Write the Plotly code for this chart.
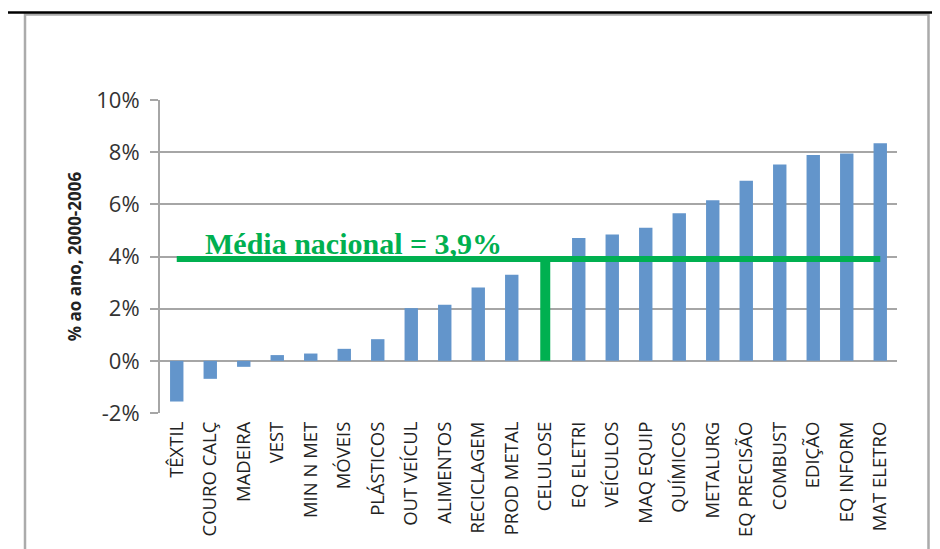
import plotly.graph_objects as go

categories = ["TÊXTIL", "COURO CALÇ", "MADEIRA", "VEST", "MIN N MET", "MÓVEIS",
              "PLÁSTICOS", "OUT VEÍCUL", "ALIMENTOS", "RECICLAGEM", "PROD METAL",
              "CELULOSE", "EQ ELETRI", "VEÍCULOS", "MAQ EQUIP", "QUÍMICOS",
              "METALURG", "EQ PRECISÃO", "COMBUST", "EDIÇÃO", "EQ INFORM", "MAT ELETRO"]
growth = [-1.56, -0.69, -0.23, 0.22, 0.28, 0.46,
          0.83, 2.02, 2.15, 2.81, 3.30,
          None, 4.71, 4.84, 5.10, 5.66,
          6.16, 6.90, 7.53, 7.89, 7.95, 8.34]
national_avg = 3.9
avg_label = "Média nacional = 3,9%"
tick_vals = [-2, 0, 2, 4, 6, 8, 10]
tick_text = ["-2%", "0%", "2%", "4%", "6%", "8%", "10%"]

# page has an 8px body margin; work in page coordinates and convert
OFF = 8
W, H = 940, 549
PL, PR, PT, PB = 160, 897, 100, 413   # plot area in page pixels
L, T = PL - OFF, PT - OFF
R = W - (PR - OFF)
B = H - (PB - OFF)
pw, ph = PR - PL, PB - PT

def px(x):
    return (x - PL) / pw

def py(y):
    return (PB - y) / ph

fig = go.Figure()
fig.add_trace(go.Bar(x=categories, y=growth, marker=dict(color="#6395cb", line=dict(width=0)),
                     showlegend=False, hoverinfo="x+y"))
fig.add_trace(go.Scatter(x=[categories[0], categories[-1]], y=[national_avg, national_avg],
                         mode="lines", line=dict(color="#00b050", width=6), showlegend=False))
fig.add_trace(go.Scatter(x=["CELULOSE", "CELULOSE"], y=[0, national_avg],
                         mode="lines", line=dict(color="#00b050", width=10), showlegend=False))

fig.add_annotation(x=px(353.5), y=national_avg, xref="paper", yref="y", text="<b>" + avg_label + "</b>",
                   showarrow=False, xanchor="center", yanchor="bottom", yshift=-3,
                   font=dict(family="Liberation Serif", size=30, color="#00b050"))

shapes = [
    dict(type="rect", xref="paper", yref="paper", x0=px(25), x1=px(928.5), y0=py(570), y1=py(14.5),
         line=dict(color="#ababab", width=2.5), fillcolor="rgba(0,0,0,0)", layer="below"),
    dict(type="line", xref="paper", yref="paper", x0=px(7), x1=px(950), y0=py(12.5), y1=py(12.5),
         line=dict(color="#000000", width=2.5)),
]

fig.update_layout(
    width=W, height=H,
    margin=dict(l=L, r=R, t=T, b=B),
    paper_bgcolor="white", plot_bgcolor="white",
    bargap=0.6,
    shapes=shapes,
    font=dict(family="Open Sans", color="#333333"),
    xaxis=dict(type="category", tickangle=-90, tickfont=dict(size=18.5, color="#222222"),
               showgrid=False, showline=False, ticks="", ticklen=0, zeroline=False,
               ticklabelstandoff=4, automargin=False),
    yaxis=dict(range=[-2, 10], tickvals=tick_vals, ticktext=tick_text,
               tickfont=dict(size=22, color="#333333"),
               showgrid=True, gridcolor="#a6a6a6", gridwidth=2,
               zeroline=True, zerolinecolor="#a6a6a6", zerolinewidth=2,
               showline=True, linecolor="#a6a6a6", linewidth=2,
               ticks="outside", ticklen=8, tickcolor="#a6a6a6", tickwidth=2,
               ticklabelstandoff=6, automargin=False,
               title=dict(text="<b>% ao ano, 2000-2006</b>", font=dict(size=17, color="#222222"), standoff=10)),
)

fig.write_html("out.html")
